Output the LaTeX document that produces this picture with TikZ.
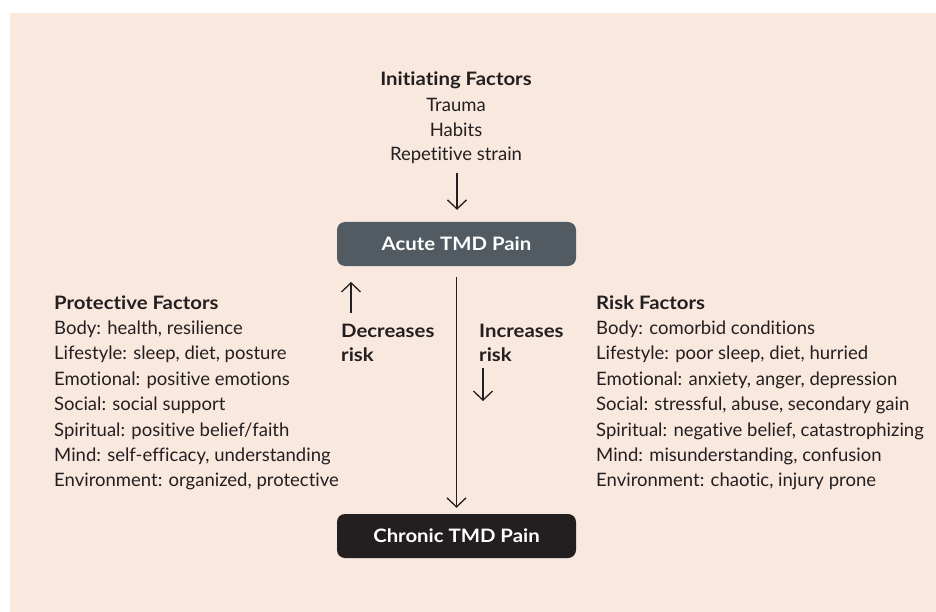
\documentclass[tikz,border=0pt]{standalone}
\usepackage{fontspec}
\setmainfont{Lato}[Ligatures=NoCommon]
\newfontfamily\hdfont{Lato}[FakeStretch=1.1,Ligatures=NoCommon]
\usetikzlibrary{arrows.meta}
\definecolor{bg}{HTML}{F9E8DE}
\definecolor{ink}{HTML}{231F20}
\definecolor{acutec}{HTML}{515B61}
\begin{document}
\begin{tikzpicture}[x=1pt,y=-1pt,
  txt/.style={inner sep=0pt, text=ink, font=\fontsize{18.5}{22}\selectfont},
  hd/.style={inner sep=0pt, text=ink, font=\hdfont\fontsize{18.5}{22}\selectfont\bfseries},
  box/.style={rounded corners=8pt, minimum width=239pt, minimum height=44pt, inner sep=0pt, text=white, font=\hdfont\fontsize{18.5}{22}\selectfont\bfseries},
  arr/.style={draw=ink, line width=1.3pt, -{Straight Barb[length=9pt,width=19pt]}}]
\useasboundingbox (0,0) rectangle (936,612);
\fill[bg] (10,13) rectangle (936,612);

\node[hd, anchor=base] (init) at (456,86) {Initiating Factors};
\node[txt, anchor=base] (t1) at (456,112) {Trauma};
\node[txt, anchor=base] (t2) at (456,137) {Habits};
\node[txt, anchor=base] (t3) at (456,161) {Repetitive strain};

\node[box, fill=acutec] (acute) at (456.5,244) {Acute TMD Pain};
\node[box, fill=ink] (chronic) at (456.5,536) {Chronic TMD Pain};

\coordinate (a0) at (457,173);
\draw[arr, shorten >=12pt] (a0) -- (a0 |- acute.north);
\draw[arr, shorten <=11pt, shorten >=6pt] (acute.south) -- (chronic.north);

\node[hd, anchor=base west] (dec1) at (341,337) {Decreases};
\node[hd, anchor=base west] (dec2) at (341,361) {risk};
\coordinate (du0) at (351,313);
\coordinate (du1) at (351,282);
\draw[arr] (du0) -- (du1);

\node[hd, anchor=base west] (inc1) at (479,337) {Increases};
\node[hd, anchor=base west] (inc2) at (479,361) {risk};
\coordinate (id0) at (483,368);
\coordinate (id1) at (483,401);
\draw[arr] (id0) -- (id1);

\node[hd, anchor=base west] (prot) at (54,309) {Protective Factors};
\foreach \t [count=\i] in {{Body: health, resilience},{Lifestyle: sleep, diet, posture},{Emotional: positive emotions},{Social: social support},{Spiritual: positive belief/faith},{Mind: self-efficacy, understanding},{Environment: organized, protective}}
  \node[txt, anchor=base west] (p\i) at (54,309+25.4*\i) {\t};

\node[hd, anchor=base west] (risk) at (596,309) {Risk Factors};
\foreach \t [count=\i] in {{Body: comorbid conditions},{Lifestyle: poor sleep, diet, hurried},{Emotional: anxiety, anger, depression},{Social: stressful, abuse, secondary gain},{Spiritual: negative belief, catastrophizing},{Mind: misunderstanding, confusion},{Environment: chaotic, injury prone}}
  \node[txt, anchor=base west] (r\i) at (596,309+25.4*\i) {\t};
\end{tikzpicture}
\end{document}
